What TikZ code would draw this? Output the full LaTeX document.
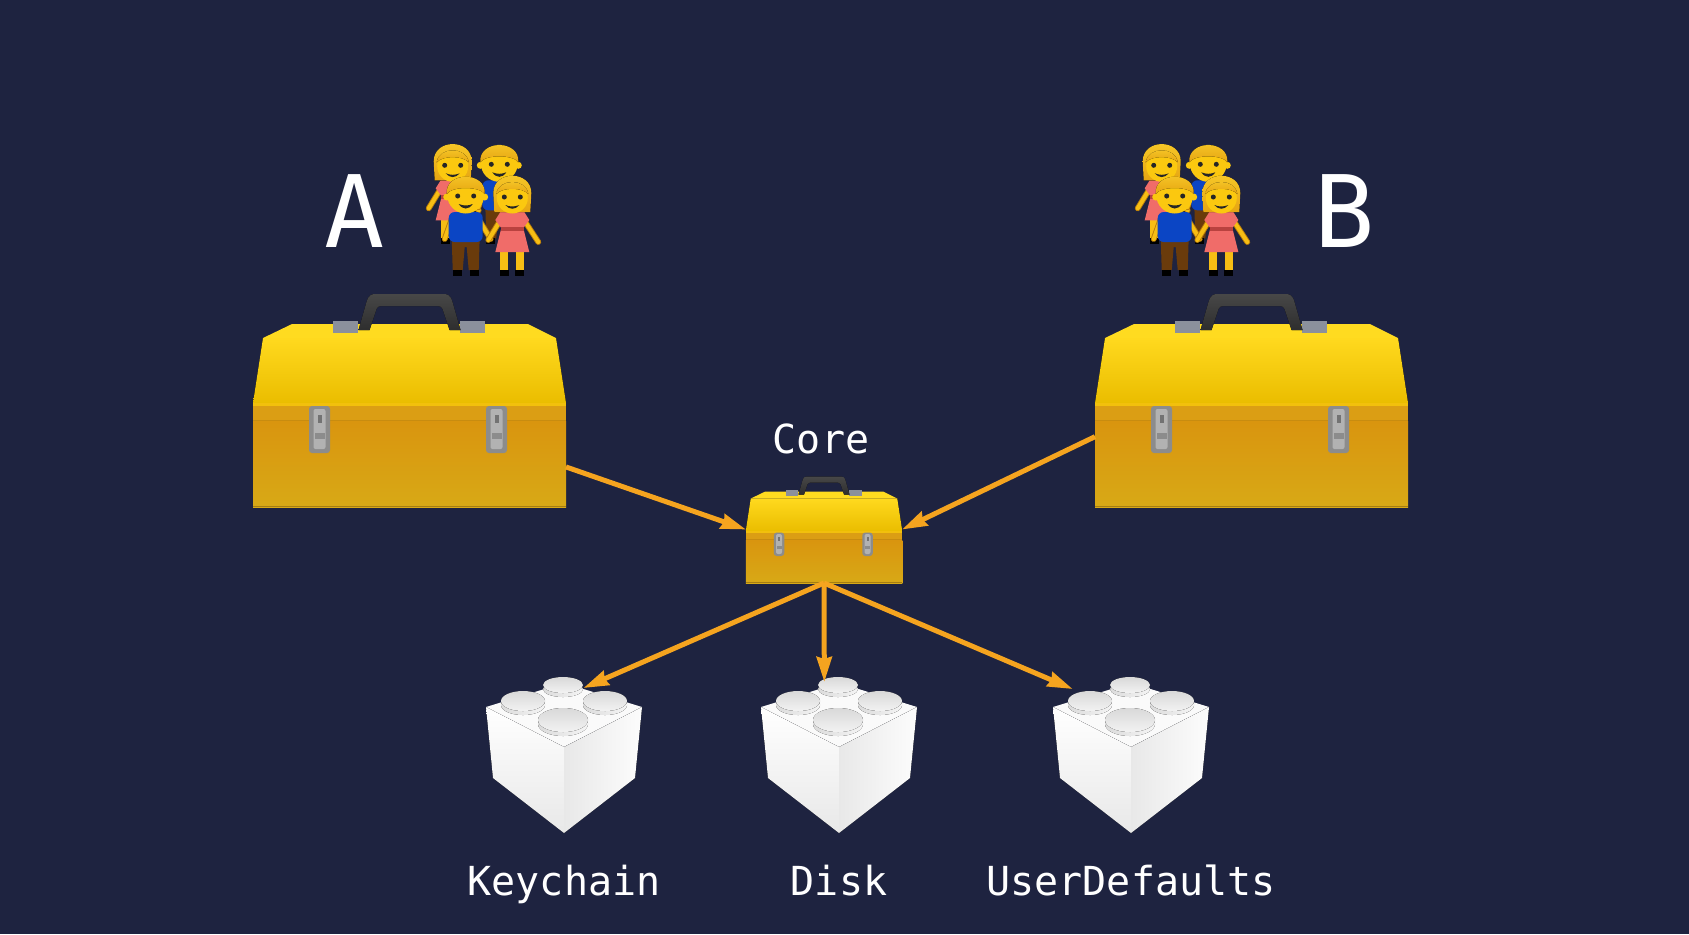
\documentclass[tikz,border=0pt]{standalone}
\usepackage{fontspec}
\setmonofont{DejaVu Sans Mono}
\usepackage{xcolor}
\usetikzlibrary{arrows.meta, positioning}

\definecolor{navy}{HTML}{1E2340}
\definecolor{flowc}{HTML}{F5A41F}
\definecolor{skin}{HTML}{FBC80F}
\definecolor{limb}{HTML}{F7BE14}
\definecolor{limbedge}{HTML}{B97D0A}
\definecolor{hairlit}{HTML}{F8CB2A}
\definecolor{hairlow}{HTML}{E6A512}
\definecolor{dress}{HTML}{F06C69}
\definecolor{belt}{HTML}{B9423F}
\definecolor{shirt}{HTML}{0B45C4}
\definecolor{pants}{HTML}{6A3B0B}
\definecolor{lidtop}{HTML}{FFD91E}
\definecolor{lidlow}{HTML}{EABD00}
\definecolor{lidrim}{HTML}{FFDB20}
\definecolor{bodytop}{HTML}{D9950F}
\definecolor{bodylow}{HTML}{D8A916}
\definecolor{bandc}{HTML}{DB9E14}
\definecolor{bandlit}{HTML}{F2C00C}
\definecolor{bandline}{HTML}{C88C10}
\definecolor{boxedge}{HTML}{A57D12}
\definecolor{hinge}{HTML}{8B909C}

\tikzset{
  limbline/.style={line width=2.9pt, line cap=round},
  toolkit/.pic={
    % lid
    \fill[top color=lidtop, bottom color=lidlow] (-146.5,-169) -- (146.5,-169) -- (156.5,-104) -- (-156.5,-104) -- cycle;
    \fill[lidrim] (-117.5,-183) -- (118.5,-183) -- (146.5,-169) -- (-146.5,-169) -- cycle;
    % body
    \fill[top color=bodytop, bottom color=bodylow] (-156.5,-86) rectangle (156.5,0);
    \fill[bandc] (-156.5,-104) rectangle (156.5,-86);
    \fill[bandlit] (-156.5,-104) rectangle (156.5,-101);
    \fill[bandline] (-156.5,-87.5) rectangle (156.5,-86);
    \fill[boxedge] (-156.5,-1.5) rectangle (156.5,0);
    % hinges and handle
    \fill[hinge] (-76.5,-186) rectangle (-51.5,-174);
    \fill[hinge] (50.5,-186) rectangle (75.5,-174);
    \fill[top color=black!72, bottom color=black!82]
      (-51,-177) -- (-43,-205) .. controls (-41,-212) and (-38,-213) .. (-34,-213) -- (34,-213)
      .. controls (38,-213) and (41,-212) .. (43,-205) -- (51,-177) -- (40,-177) -- (33,-198)
      .. controls (32,-200) and (31,-201) .. (28,-201) -- (-28,-201) .. controls (-31,-201) and (-32,-200) .. (-33,-198)
      -- (-40,-177) -- cycle;
    % latches
    \foreach \lx in {-90,87}{
      \fill[black!45, rounded corners=1.5pt] (\lx-10.5,-101) rectangle (\lx+10.5,-54);
      \fill[black!30, rounded corners=1pt] (\lx-6,-98) rectangle (\lx+6,-58);
      \fill[black!55] (\lx-2,-92) rectangle (\lx+2,-84);
      \fill[black!45] (\lx-5,-74) rectangle (\lx+5,-68);
    }
  },
  brick/.pic={
    % faces
    \fill[black!2] (-78,-126) -- (0,-150) -- (78,-126) -- (0,-86) -- cycle;
    \fill[top color=white, bottom color=black!9] (-78,-126) -- (0,-86) -- (0,0) -- (-71,-55) -- cycle;
    \fill[left color=black!9, right color=black!1] (78,-126) -- (0,-86) -- (0,0) -- (71,-55) -- cycle;
    % studs
    \foreach \sx/\sy/\srx/\sry in {-1/-148/20/8, -41/-132/22/10, 41/-132/22/10, -1/-113/25/12}{
      \fill[left color=black!14, right color=black!4] (\sx,\sy+4) ellipse [x radius=\srx, y radius=\sry];
      \fill[top color=black!15, bottom color=black!5] (\sx,\sy) ellipse [x radius=\srx, y radius=\sry];
    }
  },
  boyfig/.pic={
    \draw[limbedge, limbline] (-14,24) -- (-21,44);
    \draw[limbedge, limbline] (14,26) -- (25,44);
    \draw[limb, line width=2pt, line cap=round] (-14,24) -- (-21,44);
    \draw[limb, line width=2pt, line cap=round] (14,26) -- (25,44);
    \fill[pants] (-14,42) -- (14,42) -- (13,75) -- (3,75) -- (1,52) -- (-1,52) -- (-3,75) -- (-13,75) -- cycle;
    \fill[black] (-13,75) rectangle (-4,81);
    \fill[black] (4,75) rectangle (13,81);
    \fill[shirt, rounded corners=3pt] (-17,17) rectangle (17,47);
    \fill[skin] (-19,2) circle (3.5);
    \fill[skin] (19,2) circle (3.5);
    \fill[skin] (0,0) circle (18.5);
    \fill[top color=hairlit, bottom color=hairlow] (-19,-1) .. controls (-21,-24) and (21,-24) .. (19,-1) .. controls (14,-9) and (-14,-9) .. (-19,-1) -- cycle;
    \fill[black!85] (-8,1) circle (2.5);
    \fill[black!85] (8,1) circle (2.5);
    \fill[black!85] (-7,9) .. controls (-2,11) and (2,11) .. (7,9) .. controls (3,15) and (-3,15) .. (-7,9) -- cycle;
  },
  girlfig/.pic={
    \draw[limbedge, limbline] (-13,27) -- (-24,45);
    \draw[limbedge, limbline] (13,27) -- (26,47);
    \draw[limb, line width=2pt, line cap=round] (-13,27) -- (-24,45);
    \draw[limb, line width=2pt, line cap=round] (13,27) -- (26,47);
    \fill[limb] (-12,56) rectangle (-4,75);
    \fill[limb] (4,56) rectangle (12,75);
    \fill[black] (-12,75) rectangle (-3,81);
    \fill[black] (3,75) rectangle (12,81);
    \fill[dress] (-12,17) -- (12,17) -- (17,25) -- (11,33) -- (17,57) -- (-17,57) -- (-11,33) -- (-17,25) -- cycle;
    \fill[belt] (-11.5,32) rectangle (11.5,36);
    \fill[top color=hairlit, bottom color=hairlow] (-18,17) -- (-19,-2) .. controls (-19,-25) and (19,-25) .. (19,-2) -- (18,17) -- cycle;
    \fill[skin] (0,3) circle (15.5);
    \fill[top color=hairlit, bottom color=hairlow] (-16,-1) .. controls (-14,-17) and (14,-17) .. (16,-1) .. controls (10,-8) and (-10,-8) .. (-16,-1) -- cycle;
    \fill[black!85] (-8,2) circle (2.5);
    \fill[black!85] (8,2) circle (2.5);
    \fill[black!85] (-7,10) .. controls (-2,12) and (2,12) .. (7,10) .. controls (3,15) and (-3,15) .. (-7,10) -- cycle;
  },
  family/.pic={
    \pic at (0,0) {girlfig};
    \pic at (46.6,0) {boyfig};
    \pic at (13,31.7) {boyfig};
    \pic at (59.6,31.7) {girlfig};
  }
}

\begin{document}
\begin{tikzpicture}[x=0.5pt,y=-0.5pt]
    \tikzstyle{icon}=[shape=rectangle,inner sep=0pt,outer sep=0pt]
    \tikzstyle{bigname}=[inner sep=0pt,anchor=base,text=white,font=\ttfamily\fontsize{50}{60}\selectfont]
    \tikzstyle{modname}=[inner sep=0pt,text=white,text height=15pt,text depth=3pt,font=\ttfamily\fontsize{20}{24}\selectfont]
    \tikzstyle{flow}=[-{Stealth[length=12.5pt,width=7.5pt,inset=1pt]},draw=flowc,line width=2.5pt]

    \path[use as bounding box,fill=navy] (0,0) rectangle (1689,934);

    \node[icon,minimum width=156.5pt,minimum height=106.5pt] (toolA) at (409.5,400.5) {};
    \node[icon,minimum width=156.5pt,minimum height=106.5pt] (toolB) at (1251.5,400.5) {};
    \node[icon,minimum width=78pt,minimum height=53.5pt] (coreBox) at (824,529.5) {};
    \node[icon,minimum width=78pt,minimum height=72.5pt] (keyBox) at (564,760.5) {};
    \node[icon,minimum width=78pt,minimum height=75.5pt] (diskBox) at (839,757.5) {};
    \node[icon,minimum width=78pt,minimum height=72pt] (defaultsBox) at (1131,761) {};

    \pic at (toolA.south) {toolkit};
    \pic at (toolB.south) {toolkit};
    \pic[scale=0.5] at (coreBox.south) {toolkit};
    \pic at (keyBox.south) {brick};
    \pic at (diskBox.south) {brick};
    \pic at (defaultsBox.south) {brick};
    \pic at (452.7,163.3) {family};
    \pic at (1161.7,163.3) {family};

    \node[bigname] (nameA) at (355,247) {A};
    \node[bigname] (nameB) at (1345,247) {B};
    \node[modname,above=8pt of coreBox.north,xshift=-1.5pt] (coreName) {Core};
    \node[modname,below=16pt of keyBox.south] (keyName) {Keychain};
    \node[modname,below=16pt of diskBox.south] (diskName) {Disk};
    \node[modname,below=16pt of defaultsBox.south] (defaultsName) {UserDefaults};

    \draw[flow] (toolA.-23.3) -- (coreBox.west);
    \draw[flow] (toolB.193.1) -- (coreBox.east);
    \draw[flow] (coreBox.south) -- (keyBox.75);
    \draw[flow] (coreBox.south) -- (diskBox.101.4);
    \draw[flow] (coreBox.south) -- (defaultsBox.129.3);
  \end{tikzpicture}
\end{document}
